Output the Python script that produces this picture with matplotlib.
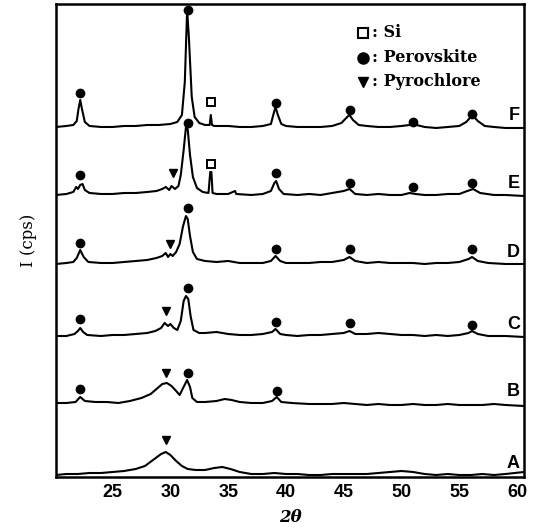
import numpy as np
import matplotlib
matplotlib.use('Agg')
import matplotlib.pyplot as plt

# XRD patterns, (2theta, counts above own baseline)
pat_A = [(20.1,0),(21,1),(22,1),(23,2),(24,2),(25,3),(26,4),(27,6),(27.8,9),(28.5,15),(29.2,21),
         (29.6,23),(30.0,20),(30.5,14),(31.0,9),(31.5,6),(32.2,5),(33,5),(33.8,7),(34.5,8),(35.2,6),
         (36,3),(37,1),(38,1),(39,2),(40,1),(41,1),(42,0),(43,0),(44,1),(45,1),(46,1),(47,1),(48,2),
         (49,3),(50,4),(51,3),(52,1),(53,0),(54,1),(55,0),(56,0),(57,1),(58,0),(59,1),(60.6,3)]
pat_B = [(20.1,0),(21,0),(21.8,1),(22.2,6),(22.6,2),(23.5,1),(24.5,1),(25.5,0),(26.5,2),(27.5,5),
         (28.3,9),(28.9,15),(29.3,19),(29.7,20),(30.1,17),(30.5,12),(30.8,8),(31.1,15),(31.45,23),
         (31.7,16),(31.9,5),(32.3,1),(33,1),(34,2),(34.7,4),(35.3,3),(36,1),(37,0),(38,0),(38.8,2),
         (39.2,6),(39.6,1),(40.5,0),(42,-1),(43,-1),(44,-1),(45,0),(46,-1),(47,-2),(48,-1),(49,-2),
         (50,-2),(51,-1),(52,-2),(53,-2),(54,-1),(55,-2),(56,-2),(57,-2),(58,-1),(59,-2),(60.6,-3)]
pat_C = [(20.1,0),(21,0),(21.7,2),(22.0,5),(22.2,8),(22.45,4),(22.8,1),(24,0),(25,1),(26,1),(27,2),
         (28,3),(28.7,5),(29.2,8),(29.5,13),(29.8,10),(30.0,12),(30.3,8),(30.6,6),(30.9,15),(31.15,35),
         (31.35,40),(31.55,37),(31.75,20),(32.0,6),(32.5,3),(33,3),(34,4),(35,2),(36,1),(37,1),(38,2),
         (38.8,4),(39.1,7),(39.5,2),(40,1),(41,0),(42,1),(43,1),(44,2),(45,3),(45.5,5),(46,2),(47,2),
         (48,3),(49,2),(50,1),(51,1),(52,0),(53,1),(54,0),(55,1),(55.8,3),(56.1,5),(56.6,2),(57.5,0),
         (59,0),(60.6,-1)]
pat_D = [(20.1,0),(21,1),(21.6,2),(21.9,6),(22.2,14),(22.5,7),(22.9,2),(24,1),(25,1),(26,2),(27,3),
         (28,4),(28.8,6),(29.3,8),(29.6,11),(29.8,7),(30.0,10),(30.2,8),(30.5,12),(30.8,20),(31.1,38),
         (31.35,48),(31.5,45),(31.7,28),(31.95,12),(32.3,5),(33,3),(34,2),(35,3),(36,1),(37,1),(38,1),
         (38.7,3),(39.1,8),(39.5,3),(40,1),(42,1),(43,2),(44,2),(45,4),(45.5,7),(46,3),(47,1),(48,2),
         (49,1),(50,1),(51,1),(52,0),(53,1),(54,1),(55,2),(55.8,5),(56.1,7),(56.6,3),(57.5,1),(59,0),
         (60.6,0)]
pat_E = [(20.1,0),(21.0,1),(21.6,3),(21.85,8),(22.0,6),(22.2,10),(22.4,11),(22.6,5),(23.0,2),(24,1),
         (25,1),(26,2),(27,2),(28,3),(28.8,4),(29.3,6),(29.6,8),(29.9,5),(30.1,9),(30.4,6),(30.7,9),
         (30.9,20),(31.15,45),(31.35,68),(31.5,66),(31.7,40),(31.95,18),(32.3,7),(32.8,3),(33.3,2),
         (33.45,23),(33.55,23),(33.65,2),(34,1),(35,1),(35.6,4),(35.7,1),(37,0),(38,1),(38.7,4),
         (39.0,12),(39.15,14),(39.4,6),(39.8,1),(41,0),(42,1),(43,0),(44,2),(45.0,4),(45.5,6),(46,1),
         (47,0),(48,1),(49,0),(50,0),(50.7,2),(51.2,1),(52,0),(53,0),(54,1),(55,1),(55.7,4),(56.2,6),
         (56.8,2),(58,0),(59,0),(60.6,-1)]
pat_F = [(20.1,0),(21.0,1),(21.6,2),(21.9,6),(22.05,18),(22.2,27),(22.35,18),(22.6,5),(23.0,1),(24,0),
         (25,0),(26,1),(27,1),(28,2),(29,2),(30,3),(30.6,5),(31.0,12),(31.25,45),(31.45,117),(31.6,90),
         (31.85,30),(32.1,10),(32.5,4),(33.0,2),(33.4,2),(33.5,12),(33.6,2),(33.8,1),(35,1),(36,0),
         (37,0),(38,1),(38.7,3),(38.95,14),(39.1,20),(39.3,12),(39.6,3),(40,1),(41,0),(42,0),(43,0),
         (44,1),(44.8,4),(45.3,10),(45.5,12),(45.8,7),(46.3,2),(47,1),(48,0),(49,0),(50,1),(50.7,2),
         (51.0,4),(51.3,2),(52,0),(53,-1),(54,0),(55,1),(55.6,5),(56.0,10),(56.2,11),(56.6,6),(57.2,1),
         (58,0),(59,-1),(60.6,-1)]

names = ['A', 'B', 'C', 'D', 'E', 'F']
patterns = [pat_A, pat_B, pat_C, pat_D, pat_E, pat_F]
baselines = [2, 74, 141, 213, 282, 350]

# phase markers: (2theta, height above baseline)
perov = {'B': [(22.2,14),(31.5,30),(39.2,12)],
         'C': [(22.2,17),(31.5,48),(39.1,14),(45.5,13),(56.1,11)],
         'D': [(22.2,21),(31.5,56),(39.1,15),(45.5,15),(56.1,15)],
         'E': [(22.2,20),(31.5,72),(39.1,22),(45.5,12),(51.0,8),(56.1,12)],
         'F': [(22.2,34),(31.5,117),(39.1,24),(45.5,17),(51.0,5),(56.1,13)]}
pyro = {'A': [(29.6,35)], 'B': [(29.6,30)], 'C': [(29.6,25)],
        'D': [(30.0,20)], 'E': [(30.2,22)]}
si = {'E': [(33.5,31)], 'F': [(33.5,25)]}

fig = plt.figure(figsize=(5.38, 5.31), dpi=100)
ax = fig.add_axes([0.104, 0.1017, 0.870, 0.8908])

for name, pat, base in zip(names, patterns, baselines):
    p = np.array(pat)
    ax.plot(p[:, 0], p[:, 1] + base, color='black', lw=1.5)
    ax.text(60.25, base + 3, name, ha='right', va='bottom', fontsize=13,
            fontweight='bold', family='Liberation Sans')
    for x, h in perov.get(name, []):
        ax.plot(x, base + h, 'o', color='black', ms=6)
    for x, h in pyro.get(name, []):
        ax.plot(x, base + h, 'v', color='black', ms=5.5)
    for x, h in si.get(name, []):
        ax.plot(x, base + h, 's', mfc='white', mec='black', mew=1.4, ms=6)

ax.set_xlim(20.1, 60.6)
ax.set_ylim(0, 473)
ax.set_yticks([])
ax.set_xticks([25, 30, 35, 40, 45, 50, 55, 60])
ax.tick_params(axis='x', length=0, pad=5)
for lab in ax.get_xticklabels():
    lab.set_fontsize(13)
    lab.set_fontweight('bold')
    lab.set_family('Liberation Sans')
for s in ax.spines.values():
    s.set_linewidth(1.8)

# legend
ser = {'family': 'DejaVu Serif', 'fontweight': 'bold', 'fontsize': 11.5}
lx = 0.655
ax.plot(lx, 0.939, 's', mfc='white', mec='black', mew=1.5, ms=7, transform=ax.transAxes)
ax.plot(lx, 0.886, 'o', color='black', ms=8, transform=ax.transAxes)
ax.plot(lx, 0.836, 'v', color='black', ms=6.5, transform=ax.transAxes)
ax.text(lx + 0.02, 0.939, ': Si', va='center', transform=ax.transAxes, **ser)
ax.text(lx + 0.02, 0.886, ': Perovskite', va='center', transform=ax.transAxes, **ser)
ax.text(lx + 0.02, 0.836, ': Pyrochlore', va='center', transform=ax.transAxes, **ser)

ax.set_ylabel('I (cps)', family='DejaVu Serif', fontsize=12, labelpad=14)
ax.set_xlabel('2θ', family='DejaVu Serif', fontstyle='italic', fontweight='bold',
              fontsize=12, labelpad=6)

fig.savefig('out.png', dpi=100)
